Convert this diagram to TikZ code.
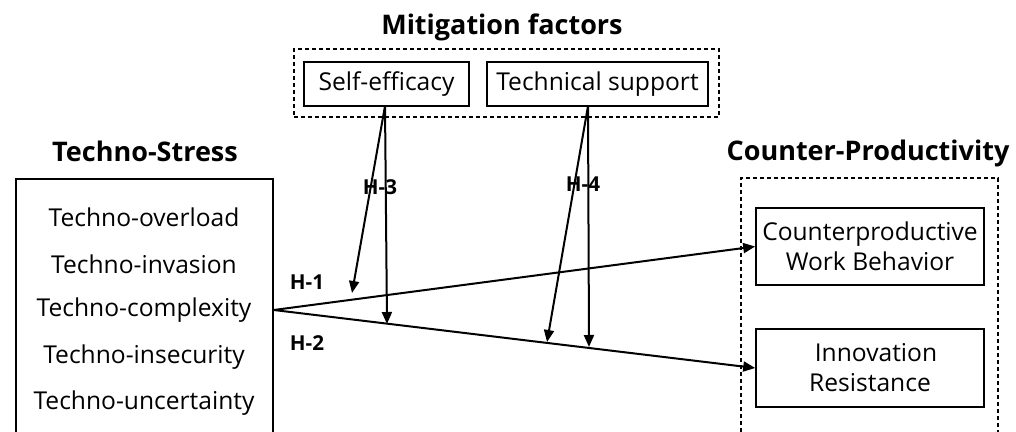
\documentclass[tikz,border=0pt]{standalone}
\usepackage{fontspec}
\setmainfont{Open Sans}
\usetikzlibrary{arrows.meta}
\begin{document}
\begin{tikzpicture}[x=0.5pt,y=-0.5pt,
  box/.style={draw,line width=0.8pt,inner sep=0pt,align=center,font=\fontsize{12.3}{15}\selectfont},
  dbox/.style={draw,dashed,dash pattern=on 2pt off 1.5pt,line width=0.6pt,inner sep=0pt},
  title/.style={font=\fontsize{13.5}{16}\selectfont\bfseries,inner sep=0pt},
  item/.style={font=\fontsize{12.3}{15}\selectfont,inner sep=0pt},
  hlab/.style={font=\fontsize{10.3}{12}\selectfont\bfseries,inner sep=0pt},
  arr/.style={line width=1pt,-{Triangle[length=6pt,width=5pt]}}]
\useasboundingbox (0,0) rectangle (1016,432);
\begin{scope}
\clip (0,0) rectangle (1016,432);
% titles
\node[title] (tmit) at (502,27) {Mitigation factors};
\node[title] (tts) at (145,151) {Techno-Stress};
\node[title] (tcp) at (868,153) {Counter-Productivity};
% mitigation
\node[dbox,minimum width=212.5pt,minimum height=34pt] (mit) at (506.5,83) {};
\node[box,minimum width=82.5pt,minimum height=22pt] (se) at (386.5,84) {Self-efficacy};
\node[box,minimum width=110.5pt,minimum height=22pt] (tsup) at (597.5,84) {Technical support};
% techno-stress
\node[box,minimum width=128.5pt,minimum height=131pt] (ts) at (144.5,310) {};
\node[item] (i1) at (144,217) {Techno-overload};
\node[item] (i2) at (144,264) {Techno-invasion};
\node[item] (i3) at (144,310) {Techno-complexity};
\node[item] (i4) at (144,357) {Techno-insecurity};
\node[item] (i5) at (144,403) {Techno-uncertainty};
% counter-productivity
\node[dbox,minimum width=128.5pt,minimum height=136pt] (cp) at (869.5,314) {};
\node[box,minimum width=114pt,minimum height=38.5pt] (cwb) at (870,246.5) {Counterproductive\\Work Behavior};
\node[box,minimum width=114pt,minimum height=39pt] (ir) at (870,368) {\hspace*{6pt}Innovation\\Resistance};
% main arrows
\draw[arr] (ts.east) -- (cwb.west);
\draw[arr] (ts.east) -- (ir.west);
% moderator arrows
\coordinate (seo) at (385,106);
\coordinate (tso) at (588,106);
\coordinate (h1a) at (352,293);
\coordinate (h2a) at (387,324);
\coordinate (h2b) at (547,342);
\coordinate (h2c) at (589,347);
\draw[arr] (seo) -- (h1a);
\draw[arr] (seo) -- (h2a);
\draw[arr] (tso) -- (h2b);
\draw[arr] (tso) -- (h2c);
% labels
\node[hlab] (l1) at (307,282) {H-1};
\node[hlab] (l2) at (307,343) {H-2};
\node[hlab] (l3) at (380,187) {H-3};
\node[hlab] (l4) at (583,184) {H-4};
\end{scope}
\end{tikzpicture}
\end{document}
